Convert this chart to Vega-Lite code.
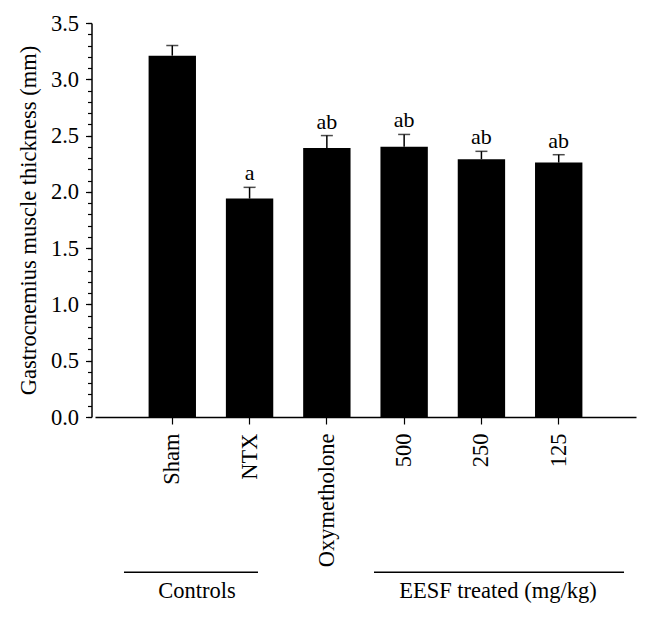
{
  "$schema": "https://vega.github.io/schema/vega-lite/v6.json",
  "width": 541,
  "height": 394,
  "autosize": {"type": "none"},
  "padding": {"left": 95, "top": 23, "right": 13, "bottom": 204},
  "background": "white",
  "config": {
    "font": "Liberation Serif",
    "view": {"stroke": null},
    "axis": {
      "labelFont": "Liberation Serif",
      "titleFont": "Liberation Serif",
      "labelColor": "black",
      "titleColor": "black",
      "domainColor": "black",
      "tickColor": "black",
      "grid": false,
      "labelFontSize": 22.5,
      "titleFontSize": 22.5,
      "titleFontWeight": "normal",
      "domainWidth": 1.5,
      "tickWidth": 1.2
    }
  },
  "layer": [
    {
      "data": {
        "values": [
          {"group": "Sham", "mean": 3.21, "upper": 3.30, "sig": ""},
          {"group": "NTX", "mean": 1.94, "upper": 2.04, "sig": "a"},
          {"group": "Oxymetholone", "mean": 2.39, "upper": 2.50, "sig": "ab"},
          {"group": "500", "mean": 2.40, "upper": 2.51, "sig": "ab"},
          {"group": "250", "mean": 2.29, "upper": 2.36, "sig": "ab"},
          {"group": "125", "mean": 2.26, "upper": 2.33, "sig": "ab"}
        ]
      },
      "encoding": {
        "x": {
          "field": "group",
          "type": "nominal",
          "sort": ["Sham", "NTX", "Oxymetholone", "500", "250", "125"],
          "scale": {"paddingInner": 0.387, "paddingOuter": 0.6935},
          "axis": {
            "title": null,
            "labelAngle": -90,
            "labelAlign": "right",
            "labelBaseline": "middle",
            "tickSize": 7,
            "labelPadding": 9
          }
        }
      },
      "layer": [
        {
          "mark": {"type": "bar", "color": "black"},
          "encoding": {
            "y": {
              "field": "mean",
              "type": "quantitative",
              "scale": {"domain": [0, 3.5], "nice": false},
              "axis": {
                "orient": "left",
                "values": [0, 0.5, 1, 1.5, 2, 2.5, 3, 3.5],
                "format": ".1f",
                "tickSize": 6,
                "labelPadding": 7,
                "offset": 3.5,
                "title": "Gastrocnemius muscle thickness (mm)",
                "titlePadding": 10
              }
            }
          }
        },
        {
          "mark": {"type": "rule", "color": "black", "strokeWidth": 1.5},
          "encoding": {
            "y": {"field": "mean", "type": "quantitative", "axis": null},
            "y2": {"field": "upper"}
          }
        },
        {
          "mark": {"type": "tick", "color": "black", "size": 12, "thickness": 1.5},
          "encoding": {
            "y": {"field": "upper", "type": "quantitative", "axis": null}
          }
        },
        {
          "mark": {"type": "text", "baseline": "alphabetic", "dy": -7, "fontSize": 22, "font": "Liberation Serif", "color": "black"},
          "encoding": {
            "y": {"field": "upper", "type": "quantitative", "axis": null},
            "text": {"field": "sig"}
          }
        },
        {
          "mark": {"type": "point", "opacity": 0},
          "encoding": {
            "y": {
              "field": "mean",
              "type": "quantitative",
              "axis": {
                "orient": "left",
                "values": [0, 0.1, 0.2, 0.3, 0.4, 0.5, 0.6, 0.7, 0.8, 0.9, 1, 1.1, 1.2, 1.3, 1.4, 1.5, 1.6, 1.7, 1.8, 1.9, 2, 2.1, 2.2, 2.3, 2.4, 2.5, 2.6, 2.7, 2.8, 2.9, 3, 3.1, 3.2, 3.3, 3.4, 3.5],
                "labels": false,
                "domain": false,
                "tickSize": 4,
                "offset": 3.5,
                "title": null
              }
            }
          }
        }
      ],
      "resolve": {"axis": {"y": "independent"}}
    },
    {
      "data": {
        "values": [
          {"label": "Controls", "start": 0.375, "end": 2.109, "mid": 1.32},
          {"label": "EESF treated (mg/kg)", "start": 3.61, "end": 6.845, "mid": 5.214}
        ]
      },
      "layer": [
        {
          "mark": {"type": "rule", "color": "black", "strokeWidth": 1.5},
          "encoding": {
            "x": {"field": "start", "type": "quantitative", "scale": {"domain": [0, 7], "nice": false}, "axis": null},
            "x2": {"field": "end"},
            "y": {"datum": -1.38, "type": "quantitative", "scale": {"domain": [0, 3.5], "nice": false}, "axis": null}
          }
        },
        {
          "mark": {"type": "text", "fontSize": 22.5, "baseline": "alphabetic", "align": "center", "font": "Liberation Serif", "color": "black"},
          "encoding": {
            "x": {"field": "mid", "type": "quantitative", "axis": null},
            "y": {"datum": -1.607, "type": "quantitative", "axis": null},
            "text": {"field": "label"}
          }
        }
      ]
    }
  ],
  "resolve": {
    "scale": {"x": "independent", "y": "independent"},
    "axis": {"x": "independent", "y": "independent"}
  }
}
